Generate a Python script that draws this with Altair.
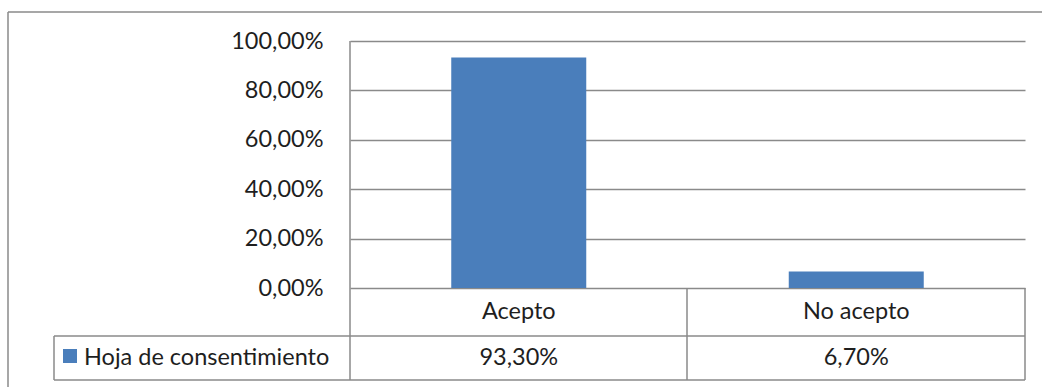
import altair as alt
import pandas as pd

# Chart data
categories = ["Acepto", "No acepto"]
values = [0.933, 0.067]
series_name = "Hoja de consentimiento"
y_ticks = [0, 0.2, 0.4, 0.6, 0.8, 1.0]

BAR_COLOR = "#4A7EBB"
LINE_COLOR = "#8A8A8A"
TEXT_COLOR = "#1E1E1E"
FONT = "Lato"
FS = 23.5

df = pd.DataFrame({"cat": categories, "v": values})

# Plot area: 675 x 247 px, offset (350, 41) inside the 1042 x 387 canvas
W, H = 675, 247
OX, OY = 350, 41

def px(x):
    return x - OX

def py(y):
    return y - OY

pct = "replace(format({}, '.2%'), '.', ',')"

xscale = alt.Scale(domain=categories, paddingInner=0.6, paddingOuter=0.3)
x_enc = alt.X("cat:N", scale=xscale, sort=categories, axis=None)

base = alt.Chart(df)

bars = base.mark_bar(color=BAR_COLOR).encode(
    x=x_enc,
    y=alt.Y(
        "v:Q",
        scale=alt.Scale(domain=[0, 1]),
        axis=alt.Axis(
            values=y_ticks,
            labelExpr=pct.format("datum.value"),
            grid=True,
            gridColor=LINE_COLOR,
            gridWidth=1.5,
            ticks=False,
            domain=False,
            title=None,
            labelPadding=27,
            labelFont=FONT,
            labelFontSize=FS,
            labelColor=TEXT_COLOR,
            labelBaseline="middle",
        ),
    ),
)

# Category labels in the first table row
cat_text = base.mark_text(font=FONT, fontSize=FS, color=TEXT_COLOR, baseline="middle").encode(
    x=x_enc,
    y=alt.value(py(312)),
    text="cat:N",
)

# Values in the second table row
val_text = base.mark_text(font=FONT, fontSize=FS, color=TEXT_COLOR, baseline="middle").transform_calculate(
    lbl=pct.format("datum.v")
).encode(
    x=x_enc,
    y=alt.value(py(358)),
    text="lbl:N",
)

one = alt.Data(values=[{}])

def hrule(x1, x2, y, color=LINE_COLOR, w=1.5):
    return alt.Chart(one).mark_rule(color=color, strokeWidth=w).encode(
        x=alt.value(px(x1)), x2=alt.value(px(x2)), y=alt.value(py(y))
    )

def vrule(x, y1, y2, color=LINE_COLOR, w=1.5):
    return alt.Chart(one).mark_rule(color=color, strokeWidth=w).encode(
        x=alt.value(px(x)), y=alt.value(py(y1)), y2=alt.value(py(y2))
    )

lines = [
    # table grid
    hrule(54, 1025, 336),
    hrule(54, 1025, 380),
    vrule(350, 41, 380),
    vrule(687, 288, 380),
    vrule(1025, 288, 380),
    vrule(54, 336, 380),
    # outer chart border
    hrule(8, 1042, 12),
    vrule(8, 12, 387),
]

swatch = alt.Chart(one).mark_rect(color=BAR_COLOR).encode(
    x=alt.value(px(63)), x2=alt.value(px(77)),
    y=alt.value(py(349)), y2=alt.value(py(363)),
)

legend_text = alt.Chart(alt.Data(values=[{"s": series_name}])).mark_text(
    font=FONT, fontSize=FS, color=TEXT_COLOR, align="left", baseline="middle"
).encode(
    x=alt.value(px(84)),
    y=alt.value(py(358)),
    text="s:N",
)

chart = alt.layer(bars, cat_text, val_text, *lines, swatch, legend_text).properties(
    width=W,
    height=H,
    autosize="none",
    padding={"left": OX, "top": OY, "right": 1042 - OX - W, "bottom": 387 - OY - H},
    background="white",
).configure_view(stroke=None)

chart.save("out.html", embed_options={"renderer": "svg", "actions": False})
